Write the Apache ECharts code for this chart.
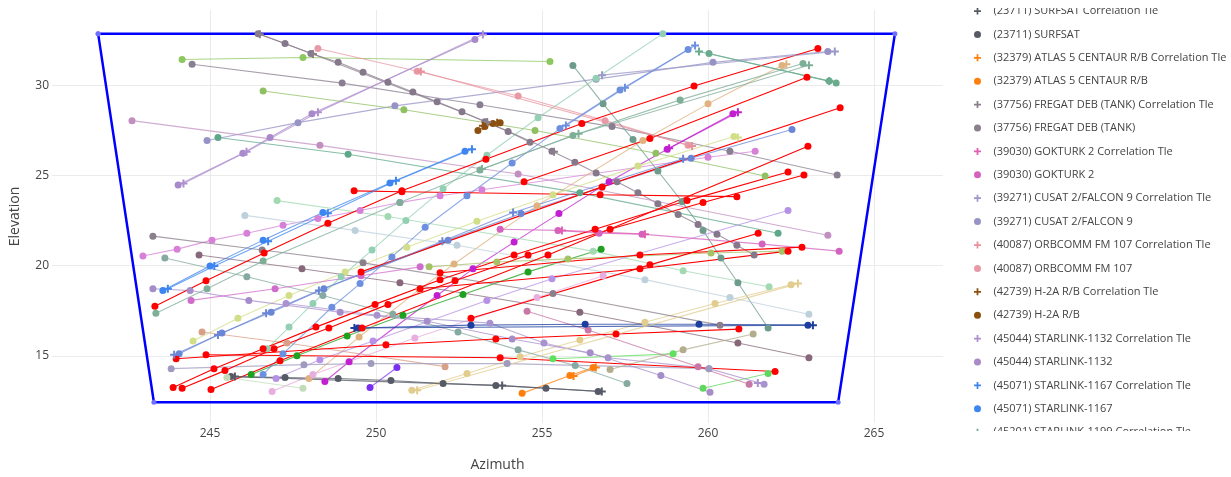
<!DOCTYPE html>
<html>
<head>
<meta charset="utf-8">
<script src="https://cdn.jsdelivr.net/npm/echarts@6/dist/echarts.min.js"></script>
<style>
  html, body { margin: 0; padding: 0; background: #fff; }
  #chart { width: 1231px; height: 477px; }
</style>
</head>
<body>
<div id="chart"></div>
<script>
// azimuth / elevation pairs
const boundary = [[241.63, 32.85], [265.63, 32.85], [263.92, 12.43], [243.31, 12.43], [241.63, 32.85]]

const fregatA = [[246.45, 32.85], [247.26, 32.30], [248.04, 31.75], [248.86, 31.26], [249.61, 30.71], [250.36, 30.16], [251.11, 29.62], [251.84, 29.07], [252.59, 28.52], [253.28, 27.97], [253.98, 27.43], [254.64, 26.83]]
const fregatB = [[255.30, 26.33], [255.99, 25.73], [256.63, 25.13], [257.26, 24.64], [257.89, 24.03], [258.49, 23.43], [259.10, 22.83], [259.70, 22.28], [260.27, 21.74], [260.87, 21.13], [261.39, 20.59]]
const greenTop = [[244.16, 31.42], [247.80, 31.53], [255.24, 31.31]]
const grayMid = [[244.46, 31.15], [248.98, 30.11], [253.13, 28.91], [257.11, 27.70], [260.66, 26.33], [263.89, 25.02]]
const orbcomm = [[248.25, 32.03], [251.24, 30.77], [254.28, 29.40], [256.90, 28.03], [259.40, 26.66]]
const sl1132 = [[244.04, 24.47], [245.99, 26.22], [246.81, 27.10], [248.07, 28.41], [252.98, 32.52]]
const cusat = [[244.91, 26.93], [247.65, 27.92], [250.57, 28.85], [256.63, 30.33], [260.15, 31.26], [263.61, 31.86]]
const tealSteep = [[255.93, 31.09], [256.84, 28.96], [257.74, 26.99], [258.49, 25.24], [259.22, 23.54], [259.85, 21.95], [260.39, 20.42], [260.90, 19.05], [261.81, 16.54]]
const sl1199 = [[260.03, 31.75], [263.65, 30.22], [263.86, 30.11]]
const mauveTop = [[242.65, 28.03], [248.31, 26.66], [254.28, 25.07], [263.61, 21.68]]
const tealMid = [[245.24, 27.10], [249.16, 26.17], [256.14, 24.03], [262.11, 21.79]]
const olive = [[246.60, 29.67], [250.84, 28.63], [254.79, 27.48], [258.43, 26.22], [261.72, 24.96]]
const orchid = [[242.98, 20.53], [244.01, 20.91], [245.06, 21.41], [246.11, 21.79], [247.20, 22.23], [248.25, 22.61], [249.52, 23.05], [250.72, 23.49], [251.93, 23.87], [253.19, 24.20], [260.00, 26.00], [261.42, 26.33]]
const sl1167 = [[243.58, 18.62], [245.00, 19.98], [246.60, 21.41], [248.40, 22.94], [250.42, 24.58], [252.68, 26.33]]
const redA = [[243.34, 17.74], [244.88, 19.16], [246.63, 20.70], [248.55, 22.34], [250.78, 24.14], [253.31, 25.89], [256.20, 27.87], [259.58, 29.95], [263.31, 32.03]]
const redB = [[243.89, 13.25], [245.12, 14.29], [246.60, 15.39], [248.19, 16.59], [249.97, 17.85], [251.93, 19.22], [254.16, 20.59], [256.60, 22.01], [259.37, 23.60], [262.41, 25.18]]
const redC = [[244.16, 13.20], [245.45, 14.18], [246.93, 15.39], [248.58, 16.54], [250.36, 17.85], [252.38, 19.16], [254.58, 20.59], [257.05, 22.01], [259.85, 23.49], [262.89, 25.02]]
const redD = [[245.03, 13.14], [247.11, 14.73], [249.58, 16.54], [255.18, 20.59], [263.01, 26.61]]
const redE = [[249.55, 19.65], [256.81, 24.36], [263.98, 28.74]]
const redF = [[254.46, 24.64], [258.25, 27.04], [262.98, 30.44]]
const redG = [[249.34, 24.14], [250.78, 24.09], [256.75, 23.92], [260.87, 23.82]]
const redH = [[243.98, 14.84], [250.30, 15.61], [253.61, 15.93], [257.23, 16.21], [260.93, 16.48]]
const redI = [[244.88, 15.06], [253.74, 14.89], [262.02, 14.13]]
const redJ = [[252.86, 17.08], [258.25, 20.04], [261.51, 21.79]]
const redK = [[251.33, 18.72], [257.95, 19.82], [262.41, 20.80]]
const redL = [[251.93, 19.60], [257.95, 20.59], [262.83, 21.02]]
const magenta = [[248.46, 13.58], [249.19, 14.67], [251.84, 18.34], [252.92, 19.82], [254.16, 21.30], [255.51, 22.88], [257.02, 24.64], [258.77, 26.44], [260.75, 28.41]]
const violetShort = [[249.82, 13.25], [250.63, 14.35]]
const green = [[246.24, 13.96], [247.62, 15.00], [249.13, 16.10], [250.81, 17.25], [252.62, 18.40], [254.58, 19.65], [256.78, 20.91]]
const limeA = [[255.33, 14.84], [258.95, 15.11]]
const limeB = [[259.85, 13.20], [261.81, 14.02]]
const atlas = [[254.40, 12.92], [255.84, 13.91], [256.54, 14.35]]
const surfsat = [[245.63, 13.85], [247.26, 13.80], [248.86, 13.74], [250.45, 13.63], [252.02, 13.47], [253.61, 13.36], [255.12, 13.20], [256.69, 13.03]]
const tan = [[251.08, 13.09], [252.74, 14.02], [254.34, 14.95], [256.14, 15.88], [258.10, 16.86], [260.21, 17.90], [262.50, 18.94]]
const sandy = [[247.98, 13.74], [249.49, 16.04], [251.30, 18.67], [252.35, 20.09], [254.85, 23.32], [258.04, 26.93], [260.00, 28.96], [262.23, 31.09]]
const yellowGreen = [[244.49, 15.82], [245.84, 17.08], [247.38, 18.34], [249.07, 19.65], [250.93, 21.02], [253.04, 22.45], [255.33, 23.92], [257.89, 25.51], [260.78, 27.15]]
const blueGray = [[246.05, 22.78], [249.37, 21.95], [252.44, 21.13], [258.10, 19.22], [260.66, 18.23], [263.04, 17.30]]
const mint = [[247.02, 23.60], [250.36, 22.72], [256.54, 20.80], [259.25, 19.71], [261.84, 18.83]]
const tealGray = [[243.64, 20.42], [246.11, 19.38], [248.40, 18.34], [250.51, 17.30], [252.47, 16.32], [254.28, 15.33], [256.00, 14.46], [257.56, 13.47]]
const mauvePink = [[254.55, 17.47], [256.39, 16.43], [259.70, 14.40], [261.24, 13.42]]
const mauveA = [[243.28, 21.63], [246.57, 20.86], [249.61, 20.15], [255.33, 18.45], [260.36, 16.70]]
const mauveB = [[244.67, 20.59], [247.77, 19.82], [250.72, 19.05], [256.14, 17.41], [260.90, 15.71], [263.04, 14.89]]
const salmon = [[244.76, 16.32], [247.32, 15.71], [252.08, 14.40]]
const pinkLight = [[246.87, 13.03], [248.10, 13.96], [251.17, 15.99], [254.85, 18.23], [256.84, 19.44]]
const violet = [[246.99, 13.74], [248.31, 14.78], [249.91, 15.82], [253.34, 18.07], [255.30, 19.27], [262.41, 23.05]]
const lavA = [[243.28, 18.72], [244.40, 18.62], [246.17, 18.07], [248.92, 17.41], [251.54, 16.92], [254.10, 15.93], [256.45, 15.17], [258.58, 13.91], [260.06, 12.98]]
const lavB = [[247.29, 17.90], [250.03, 17.25], [253.43, 16.81], [255.06, 15.71], [256.99, 14.89], [260.03, 14.29], [261.69, 13.42]]
const grayLav = [[243.83, 14.29], [247.83, 14.51], [249.85, 14.57], [253.95, 14.57], [260.03, 14.29]]
const navy = [[249.46, 16.54], [252.86, 16.70], [256.30, 16.75], [259.73, 16.75], [263.01, 16.70]]
const periSteep = [[246.60, 13.96], [247.20, 15.11], [248.67, 17.69], [249.52, 19.00], [250.48, 20.48], [251.48, 22.12], [252.74, 23.87], [254.10, 25.68], [255.54, 27.59], [257.35, 29.73], [259.40, 31.97]]
const periLow = [[244.07, 15.11], [245.36, 16.26], [246.84, 17.41], [248.43, 18.72], [252.17, 21.41], [254.37, 22.88], [259.49, 25.95], [262.53, 27.54]]
const lightTeal = [[246.72, 15.39], [247.38, 16.59], [248.10, 17.90], [248.95, 19.38], [249.88, 20.86], [250.90, 22.50], [252.02, 24.25], [253.34, 26.11], [254.88, 28.19], [256.63, 30.38], [258.64, 32.85]]
const tealGreen = [[243.37, 17.36], [244.91, 18.72], [246.60, 20.26], [250.72, 23.49], [253.13, 25.29], [255.93, 27.21], [259.16, 29.18], [262.86, 31.20]]
const h2a = [[253.07, 27.48], [253.28, 27.70], [253.52, 27.87], [253.74, 27.92]]
const oliveLow = [[251.60, 19.93], [253.64, 20.20], [255.78, 20.37], [260.09, 20.70], [262.23, 20.80]]
const khaki = [[257.05, 14.24], [259.25, 15.33], [261.36, 16.21]]
const paleGreen = [[245.51, 13.80], [247.80, 13.20]]
const gokturk = [[253.74, 22.01], [255.48, 21.95], [256.72, 21.79], [258.01, 21.74], [261.63, 21.19], [263.95, 20.80]]
const pinkMagenta = [[244.43, 18.07], [246.96, 18.72], [249.55, 19.44], [251.33, 19.93]]

// correlation tle points (cross markers)
const surfsatTle = [[245.75, 13.85], [253.80, 13.35], [256.80, 13.02]]
const atlasTle = [[255.95, 13.88], [256.62, 14.35]]
const fregatTle = [[246.50, 32.82], [248.10, 31.72], [253.35, 27.95], [255.36, 26.30]]
const gokturkTle = [[255.60, 21.95], [258.10, 21.74]]
const cusatTle = [[256.81, 30.55], [263.82, 31.86]]
const orbcommTle = [[251.35, 30.75], [259.52, 26.62]]
const h2aTle = [[253.22, 27.75], [253.65, 27.92]]
const sl1132Tle = [[244.20, 24.55], [246.10, 26.30], [248.25, 28.50], [253.22, 32.80]]
const sl1167Tle = [[243.73, 18.72], [245.13, 19.98], [246.75, 21.35], [248.55, 22.90], [250.60, 24.70], [252.89, 26.44]]
const sl1199Tle = [[259.73, 31.86], [263.65, 30.22]]
const navyTle = [[249.35, 16.54], [263.16, 16.70]]
const tanTle = [[251.24, 13.09], [262.71, 19.00]]
const periSteepTle = [[255.72, 27.76], [257.50, 29.85], [259.61, 32.19]]
const periLowTle = [[243.92, 15.06], [245.24, 16.15], [246.69, 17.36], [248.28, 18.62], [252.00, 21.35], [254.13, 22.94], [259.25, 25.92]]
const tealGreenTle = [[253.19, 25.35], [256.10, 27.30], [263.04, 31.10]]
const magentaTle = [[258.83, 26.50], [260.90, 28.50]]
const sandyTle = [[262.36, 31.15]]
const yellowGreenTle = [[260.90, 27.10]]
const lavBTle = [[261.50, 13.50]]

const xTicks = [245, 250, 255, 260, 265]
const yTicks = [15, 20, 25, 30]

const PLUS = 'path://M3,0H5V3H8V5H5V8H3V5H0V3H3Z'

// name, color, data, marker
const tracks = [
  ['boundary', '#0000ff', boundary, 'circle'],
  ['fregatA', '#85788a', fregatA, 'circle'],
  ['fregatB', '#85788a', fregatB, 'circle'],
  ['greenTop', '#8dc75f', greenTop, 'circle'],
  ['grayMid', '#8a7f92', grayMid, 'circle'],
  ['(40087) ORBCOMM FM 107', '#e79aa6', orbcomm, 'circle'],
  ['(45044) STARLINK-1132', '#a889c9', sl1132, 'circle'],
  ['(39271) CUSAT 2/FALCON 9', '#9793c6', cusat, 'circle'],
  ['tealSteep', '#6e9c8c', tealSteep, 'circle'],
  ['sl1199', '#6aab8e', sl1199, 'circle'],
  ['mauveTop', '#c290c0', mauveTop, 'circle'],
  ['tealMid', '#5ea88a', tealMid, 'circle'],
  ['olive', '#8fc062', olive, 'circle'],
  ['orchid', '#d680d8', orchid, 'circle'],
  ['(45071) STARLINK-1167', '#3d85f0', sl1167, 'circle'],
  ['magenta', '#c21fd0', magenta, 'circle'],
  ['violetShort', '#7a2ff0', violetShort, 'circle'],
  ['green', '#1fa01f', green, 'circle'],
  ['limeA', '#5fe05f', limeA, 'circle'],
  ['limeB', '#5fd85f', limeB, 'circle'],
  ['(32379) ATLAS 5 CENTAUR R/B', '#ff7f0e', atlas, 'circle'],
  ['(23711) SURFSAT', '#555a66', surfsat, 'circle'],
  ['tan', '#e2cc8e', tan, 'circle'],
  ['sandy', '#dfb27f', sandy, 'circle'],
  ['yellowGreen', '#d3df88', yellowGreen, 'circle'],
  ['blueGray', '#bdd0dc', blueGray, 'circle'],
  ['mint', '#a3d9b1', mint, 'circle'],
  ['tealGray', '#86aaa2', tealGray, 'circle'],
  ['mauvePink', '#c878a6', mauvePink, 'circle'],
  ['(37756) FREGAT DEB (TANK)', '#8a7f8a', mauveA, 'circle'],
  ['mauveB', '#86687a', mauveB, 'circle'],
  ['salmon', '#d9a089', salmon, 'circle'],
  ['pinkLight', '#e8aee0', pinkLight, 'circle'],
  ['violet', '#b592e6', violet, 'circle'],
  ['lavA', '#a58dc9', lavA, 'circle'],
  ['lavB', '#a993cf', lavB, 'circle'],
  ['grayLav', '#9f9bbf', grayLav, 'circle'],
  ['navy', '#1c3f9f', navy, 'circle'],
  ['periSteep', '#6d8fdf', periSteep, 'circle'],
  ['periLow', '#6a86d6', periLow, 'circle'],
  ['lightTeal', '#93d0b3', lightTeal, 'circle'],
  ['tealGreen', '#7dae98', tealGreen, 'circle'],
  ['(42739) H-2A R/B', '#8b4f0f', h2a, 'circle'],
  ['oliveLow', '#a6c268', oliveLow, 'circle'],
  ['khaki', '#b3ad8d', khaki, 'circle'],
  ['paleGreen', '#c2dcb9', paleGreen, 'circle'],
  ['(39030) GOKTURK 2', '#d462be', gokturk, 'circle'],
  ['pinkMagenta', '#d06ccc', pinkMagenta, 'circle'],
  ['redA', '#ff0000', redA, 'circle'],
  ['redB', '#ff0000', redB, 'circle'],
  ['redC', '#ff0000', redC, 'circle'],
  ['redD', '#ff0000', redD, 'circle'],
  ['redE', '#ff0000', redE, 'circle'],
  ['redF', '#ff0000', redF, 'circle'],
  ['redG', '#ff0000', redG, 'circle'],
  ['redH', '#ff0000', redH, 'circle'],
  ['redI', '#ff0000', redI, 'circle'],
  ['redJ', '#ff0000', redJ, 'circle'],
  ['redK', '#ff0000', redK, 'circle'],
  ['redL', '#ff0000', redL, 'circle'],
  ['(23711) SURFSAT Correlation Tle', '#555a66', surfsatTle, 'cross'],
  ['(32379) ATLAS 5 CENTAUR R/B Correlation Tle', '#ff7f0e', atlasTle, 'cross'],
  ['(37756) FREGAT DEB (TANK) Correlation Tle', '#8a7f8a', fregatTle, 'cross'],
  ['(39030) GOKTURK 2 Correlation Tle', '#e05fb0', gokturkTle, 'cross'],
  ['(39271) CUSAT 2/FALCON 9 Correlation Tle', '#9c98c8', cusatTle, 'cross'],
  ['(40087) ORBCOMM FM 107 Correlation Tle', '#e8909c', orbcommTle, 'cross'],
  ['(42739) H-2A R/B Correlation Tle', '#8b4f0f', h2aTle, 'cross'],
  ['(45044) STARLINK-1132 Correlation Tle', '#b08fd0', sl1132Tle, 'cross'],
  ['(45071) STARLINK-1167 Correlation Tle', '#3d85f0', sl1167Tle, 'cross'],
  ['(45201) STARLINK-1199 Correlation Tle', '#6aab8e', sl1199Tle, 'cross'],
  ['navyTle', '#1c3f9f', navyTle, 'cross'],
  ['tanTle', '#e2cc8e', tanTle, 'cross'],
  ['periSteepTle', '#6d8fdf', periSteepTle, 'cross'],
  ['periLowTle', '#6a86d6', periLowTle, 'cross'],
  ['tealGreenTle', '#7dae98', tealGreenTle, 'cross'],
  ['magentaTle', '#c21fd0', magentaTle, 'cross'],
  ['sandyTle', '#dfb27f', sandyTle, 'cross'],
  ['yellowGreenTle', '#d3df88', yellowGreenTle, 'cross'],
  ['lavBTle', '#a993cf', lavBTle, 'cross']
]

const legendNames = [
  '(23711) SURFSAT Correlation Tle',
  '(23711) SURFSAT',
  '(32379) ATLAS 5 CENTAUR R/B Correlation Tle',
  '(32379) ATLAS 5 CENTAUR R/B',
  '(37756) FREGAT DEB (TANK) Correlation Tle',
  '(37756) FREGAT DEB (TANK)',
  '(39030) GOKTURK 2 Correlation Tle',
  '(39030) GOKTURK 2',
  '(39271) CUSAT 2/FALCON 9 Correlation Tle',
  '(39271) CUSAT 2/FALCON 9',
  '(40087) ORBCOMM FM 107 Correlation Tle',
  '(40087) ORBCOMM FM 107',
  '(42739) H-2A R/B Correlation Tle',
  '(42739) H-2A R/B',
  '(45044) STARLINK-1132 Correlation Tle',
  '(45044) STARLINK-1132',
  '(45071) STARLINK-1167 Correlation Tle',
  '(45071) STARLINK-1167',
  '(45201) STARLINK-1199 Correlation Tle'
]

const chart = echarts.init(document.getElementById('chart'))

const series = tracks.map(([name, color, data, marker]) => {
  const isBoundary = name === 'boundary'
  const isRed = color === '#ff0000'
  return {
    type: 'line',
    name: name,
    data: data,
    symbol: marker === 'cross' ? PLUS : 'circle',
    symbolSize: isBoundary ? 5 : (marker === 'cross' ? 8 : 7),
    showAllSymbol: true,
    itemStyle: { color: isBoundary ? '#6f6fff' : color },
    lineStyle: {
      color: color,
      width: isBoundary ? 2.5 : 1.1,
      opacity: isBoundary || isRed ? 1 : 0.75
    },
    emphasis: { disabled: true },
    z: isBoundary ? 1 : 2,
    animation: false
  }
})

const option = {
  backgroundColor: '#fff',
  animation: false,
  textStyle: { fontFamily: 'Open Sans' },
  grid: { left: 52, right: 288, top: 10, bottom: 49, containLabel: false },
  xAxis: {
    type: 'value',
    min: 240.241,
    max: 267.078,
    name: 'Azimuth',
    nameLocation: 'middle',
    nameGap: 35,
    nameTextStyle: { fontSize: 14, color: '#444', fontFamily: 'Open Sans' },
    axisLine: { show: false },
    axisTick: { show: false, customValues: xTicks },
    axisLabel: { customValues: xTicks, fontSize: 12, color: '#444', margin: 5, fontFamily: 'Open Sans' },
    splitLine: { show: true, lineStyle: { color: '#ebebeb', width: 1 } }
  },
  yAxis: {
    type: 'value',
    min: 11.278,
    max: 34.16,
    name: 'Elevation',
    nameLocation: 'middle',
    nameGap: 30,
    nameTextStyle: { fontSize: 14, color: '#444', fontFamily: 'Open Sans' },
    axisLine: { show: false },
    axisTick: { show: false, customValues: yTicks },
    axisLabel: { customValues: yTicks, fontSize: 12, color: '#444', margin: 3, fontFamily: 'Open Sans' },
    splitLine: { show: true, lineStyle: { color: '#ebebeb', width: 1 } }
  },
  legend: {
    orient: 'vertical',
    left: 974,
    top: 4,
    padding: 0,
    itemWidth: 22,
    itemHeight: 7,
    itemGap: 9.4,
    selectedMode: false,
    textStyle: { fontFamily: 'Open Sans', fontSize: 11, color: '#444', lineHeight: 14 },
    data: legendNames.map(n => ({
      name: n,
      icon: n.indexOf('Correlation Tle') >= 0 ? PLUS : 'circle'
    }))
  },
  graphic: [
    { type: 'rect', z: 100, shape: { x: 945, y: 0, width: 286, height: 8 }, style: { fill: '#fff' } },
    { type: 'rect', z: 100, shape: { x: 945, y: 431, width: 286, height: 46 }, style: { fill: '#fff' } }
  ],
  series: series
}

chart.setOption(option)
</script>
</body>
</html>
